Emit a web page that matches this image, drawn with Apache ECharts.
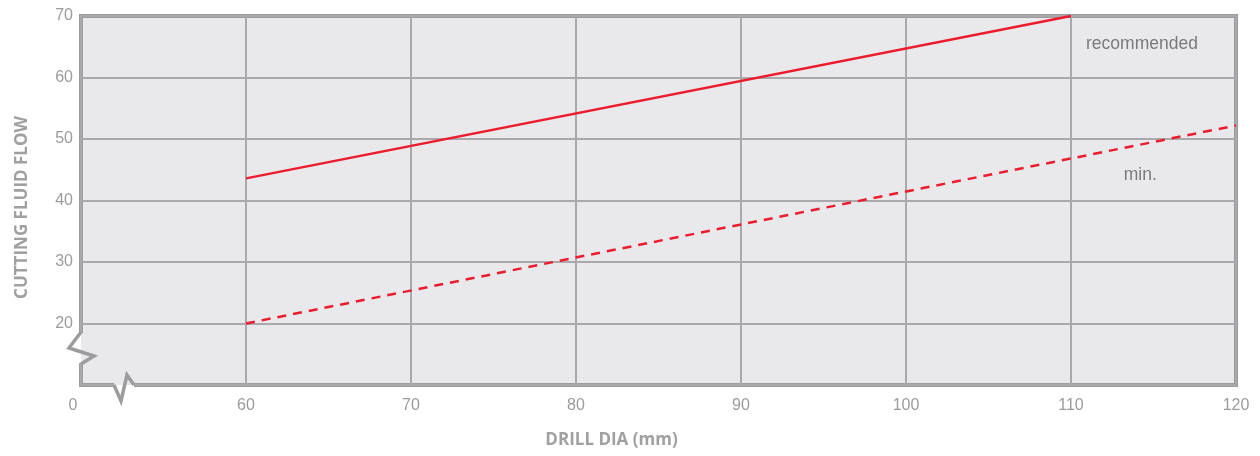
<!DOCTYPE html>
<html>
<head>
<meta charset="utf-8">
<script src="https://cdn.jsdelivr.net/npm/echarts@6/dist/echarts.min.js"></script>
<style>
html,body{margin:0;padding:0;background:#fff;}
#chart{width:1260px;height:456px;}
</style>
</head>
<body>
<div id="chart"></div>
<script>
// Data (x = drill diameter in mm, y = cutting fluid flow)
var recommendedX = [60, 110];
var recommendedY = [43.6, 70];
var minX = [60, 120];
var minY = [20, 52.2];
// x axis: broken scale, first tick (50 internally) is labelled "0"
var xTickLabels = {50: '0', 60: '60', 70: '70', 80: '80', 90: '90', 100: '100', 110: '110', 120: '120'};
var yTickLabels = {10: '', 20: '20', 30: '30', 40: '40', 50: '50', 60: '60', 70: '70'};
var annotations = [
  {text: 'recommended', x: 114.3, y: 65.4},
  {text: 'min.', x: 114.2, y: 44.1}
];

function zip(xs, ys) { return xs.map(function (x, i) { return [x, ys[i]]; }); }

var chart = echarts.init(document.getElementById('chart'));
var grid = {left: 81, top: 16, right: 24, bottom: 71};
var bg = '#e9e9ec';
var borderColor = '#9c9c9e';
var gridLine = '#a9a9ab';
var red = '#ec1c2d';
var titleFont = {color: '#a0a0a2', fontSize: 17, fontWeight: 'bold', fontFamily: 'Open Sans'};

var option = {
  animation: false,
  grid: {left: grid.left, top: grid.top, right: grid.right, bottom: grid.bottom,
         show: true, backgroundColor: bg, borderColor: borderColor, borderWidth: 4},
  xAxis: {
    type: 'value', min: 50, max: 120, interval: 10,
    axisLine: {show: false}, axisTick: {show: false},
    splitLine: {show: true, lineStyle: {color: gridLine, width: 2}},
    axisLabel: {
      margin: 13, color: '#9b9b9b', fontSize: 16, fontFamily: 'Liberation Sans',
      formatter: function (v) { return v === 50 ? '{z|0}' : xTickLabels[v]; },
      rich: {z: {padding: [0, 16, 0, 0], color: '#9b9b9b', fontSize: 16, fontFamily: 'Liberation Sans'}}
    },
    name: 'DRILL DIA (mm)', nameLocation: 'middle', nameGap: 47,
    nameTextStyle: Object.assign({padding: [0, 94, 0, 0]}, titleFont)
  },
  yAxis: {
    type: 'value', min: 10, max: 70, interval: 10,
    axisLine: {show: false}, axisTick: {show: false},
    splitLine: {show: true, lineStyle: {color: gridLine, width: 2}},
    axisLabel: {
      margin: 8, color: '#9b9b9b', fontSize: 16, fontFamily: 'Liberation Sans',
      formatter: function (v) { return yTickLabels[v]; }
    },
    name: 'CUTTING FLUID FLOW', nameLocation: 'middle', nameGap: 50,
    nameTextStyle: Object.assign({padding: [0, 14, 0, 0]}, titleFont)
  },
  series: [
    {
      type: 'line', name: 'recommended', data: zip(recommendedX, recommendedY),
      symbol: 'none', lineStyle: {color: red, width: 2.5}, z: 5,
      markPoint: {
        symbol: 'rect', symbolSize: 1, itemStyle: {color: 'transparent'},
        label: {show: true, position: 'inside', color: '#7a7a7c', fontSize: 17.5, fontFamily: 'Liberation Sans',
                formatter: function (p) { return p.name; }},
        data: annotations.map(function (a) { return {name: a.text, coord: [a.x, a.y]}; })
      }
    },
    {
      type: 'line', name: 'min.', data: zip(minX, minY),
      symbol: 'none', lineStyle: {color: red, width: 2.5, type: [9, 7]}, z: 5
    }
  ],
  graphic: []
};
chart.setOption(option);

// Axis-break zigzags drawn relative to the grid's pixel frame
function breakMarks() {
  var x0 = chart.convertToPixel({gridIndex: 0}, [50, 10]);
  var L = x0[0], B = x0[1];
  chart.setOption({graphic: [
    {type: 'rect', shape: {x: L - 3, y: B - 52, width: 3, height: 30}, style: {fill: '#fff'}, z: 100},
    {type: 'rect', shape: {x: L, y: B - 52, width: 3, height: 30}, style: {fill: bg}, z: 100},
    {type: 'polyline', shape: {points: [[L, B - 53], [L - 12, B - 37], [L + 13, B - 29], [L, B - 21]]},
     style: {stroke: borderColor, lineWidth: 3.5, fill: null, lineJoin: 'miter'}, z: 101},
    {type: 'rect', shape: {x: L + 33, y: B, width: 20, height: 3}, style: {fill: '#fff'}, z: 100},
    {type: 'rect', shape: {x: L + 33, y: B - 3, width: 20, height: 3}, style: {fill: bg}, z: 100},
    {type: 'polyline', shape: {points: [[L + 33, B], [L + 40, B + 16], [L + 46, B - 10], [L + 53, B]]},
     style: {stroke: borderColor, lineWidth: 3.5, fill: null, lineJoin: 'miter'}, z: 101}
  ]});
}
breakMarks();
</script>
</body>
</html>
